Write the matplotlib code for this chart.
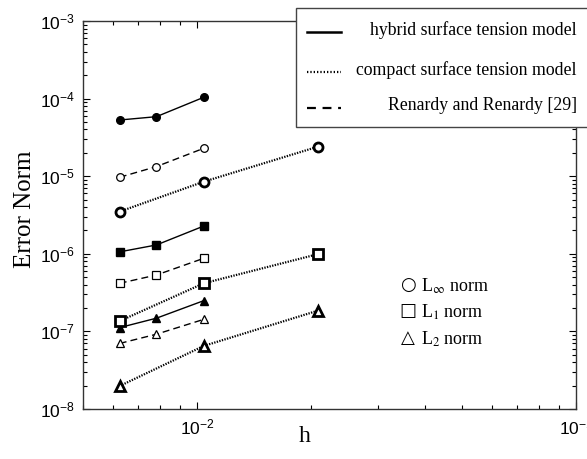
import matplotlib
matplotlib.use("Agg")
import matplotlib.pyplot as plt
from matplotlib.lines import Line2D
from matplotlib.patches import Rectangle
import matplotlib.ticker as mticker

plt.rcParams['mathtext.fontset'] = 'custom'
plt.rcParams['mathtext.rm'] = 'Liberation Sans'
plt.rcParams['mathtext.it'] = 'Liberation Sans:italic'
plt.rcParams['mathtext.bf'] = 'Liberation Sans:bold'
plt.rcParams['font.family'] = ['Liberation Sans', 'DejaVu Sans']

# grid spacings
h_fine = [1/160, 1/128, 1/96]
h_compact = [1/160, 1/96, 1/48]

# hybrid surface tension model
hyb_linf = [5.3e-5, 5.85e-5, 1.04e-4]
hyb_l1 = [1.06e-6, 1.3e-6, 2.28e-6]
hyb_l2 = [1.12e-7, 1.48e-7, 2.49e-7]
# Renardy and Renardy [29]
ren_linf = [9.7e-6, 1.33e-5, 2.29e-5]
ren_l1 = [4.17e-7, 5.33e-7, 8.75e-7]
ren_l2 = [7.0e-8, 9.2e-8, 1.43e-7]
# compact surface tension model
com_linf = [3.5e-6, 8.5e-6, 2.4e-5]
com_l1 = [1.36e-7, 4.17e-7, 9.9e-7]
com_l2 = [1.98e-8, 6.5e-8, 1.85e-7]

legend_labels = ["hybrid surface tension model", "compact surface tension model",
                 "Renardy and Renardy [29]"]

W, H = 587, 459
fig = plt.figure(figsize=(W/100, H/100), dpi=100)
ax = fig.add_axes([83/W, 1-409/H, (576-83)/W, (409-21)/H])

markers = ['o', 's', '^']
for m, y in zip(markers, [hyb_linf, hyb_l1, hyb_l2]):
    ax.plot(h_fine, y, '-', color='k', lw=1.0, marker=m, ms=5.5, mfc='k', mec='k')
for m, y in zip(markers, [ren_linf, ren_l1, ren_l2]):
    ax.plot(h_fine, y, '--', color='k', lw=1.0, dashes=(5, 3), marker=m, ms=5.5,
            mfc='white', mec='k', mew=0.9)
for m, y in zip(markers, [com_linf, com_l1, com_l2]):
    ax.plot(h_compact, y, ':', color='k', lw=1.6, dashes=(0.6, 0.6), marker=m, ms=6.5,
            mfc='white', mec='k', mew=2.0)

ax.set_xscale('log')
ax.set_yscale('log')
ax.set_xlim(0.005, 0.1)
ax.set_ylim(1e-8, 1e-3)
ax.tick_params(which='both', direction='in', top=True, right=True, width=0.8,
               labelsize=12.5, pad=6)
ax.tick_params(which='major', length=5)
ax.tick_params(which='minor', length=3)
ax.xaxis.set_major_locator(mticker.LogLocator(base=10, numticks=10))
ax.yaxis.set_major_locator(mticker.LogLocator(base=10, numticks=10))
ax.xaxis.set_minor_locator(mticker.LogLocator(base=10, subs=range(2, 10), numticks=20))
ax.yaxis.set_minor_locator(mticker.LogLocator(base=10, subs=range(2, 10), numticks=20))
ax.yaxis.set_minor_formatter(mticker.NullFormatter())
ax.xaxis.set_minor_formatter(mticker.NullFormatter())
for s in ax.spines.values():
    s.set_linewidth(1.0)
    s.set_color('#333333')

fig.text(25/W, 1-209/H, "Error Norm", family='Liberation Serif', fontsize=18,
         rotation=90, ha='center', va='center')
fig.text(305/W, 1-436/H, "h", family='Liberation Serif', fontsize=17,
         ha='center', va='center')

# line-style legend box
fig.patches.append(Rectangle((296/W, 1-127/H), (590-296)/W, (127-8)/H,
                             transform=fig.transFigure, facecolor='white',
                             edgecolor='#444444', lw=1.0, zorder=5))
ys = [32, 72, 108]
styles = [dict(ls='-', lw=1.8), dict(ls=(0, (0.6, 0.9)), lw=1.6),
          dict(ls=(0, (4, 3)), lw=1.6)]
for yy, st, lab in zip(ys, styles, legend_labels):
    fig.add_artist(Line2D([307/W, 341/W], [1-yy/H, 1-yy/H], color='k',
                          transform=fig.transFigure, zorder=6, **st))
    fig.text(577/W, 1-(yy-2)/H, lab, family='Liberation Serif', fontsize=12.8,
             ha='right', va='center', zorder=6)

# marker legend
norm_syms = ['○', '□', '△']
norm_labels = [r'L$_{\infty}$ norm', r'L$_{1}$ norm', r'L$_{2}$ norm']
for i, (sym, lab) in enumerate(zip(norm_syms, norm_labels)):
    yy = 285 + i*26.5
    fig.text(408/W, 1-yy/H, sym, family=['DejaVu Sans'], fontsize=13,
             ha='center', va='center')
    fig.text(421/W, 1-(yy+1)/H, lab, family='Liberation Serif', fontsize=13,
             ha='left', va='center', math_fontfamily='stix')

fig.savefig('out.png', dpi=100)
